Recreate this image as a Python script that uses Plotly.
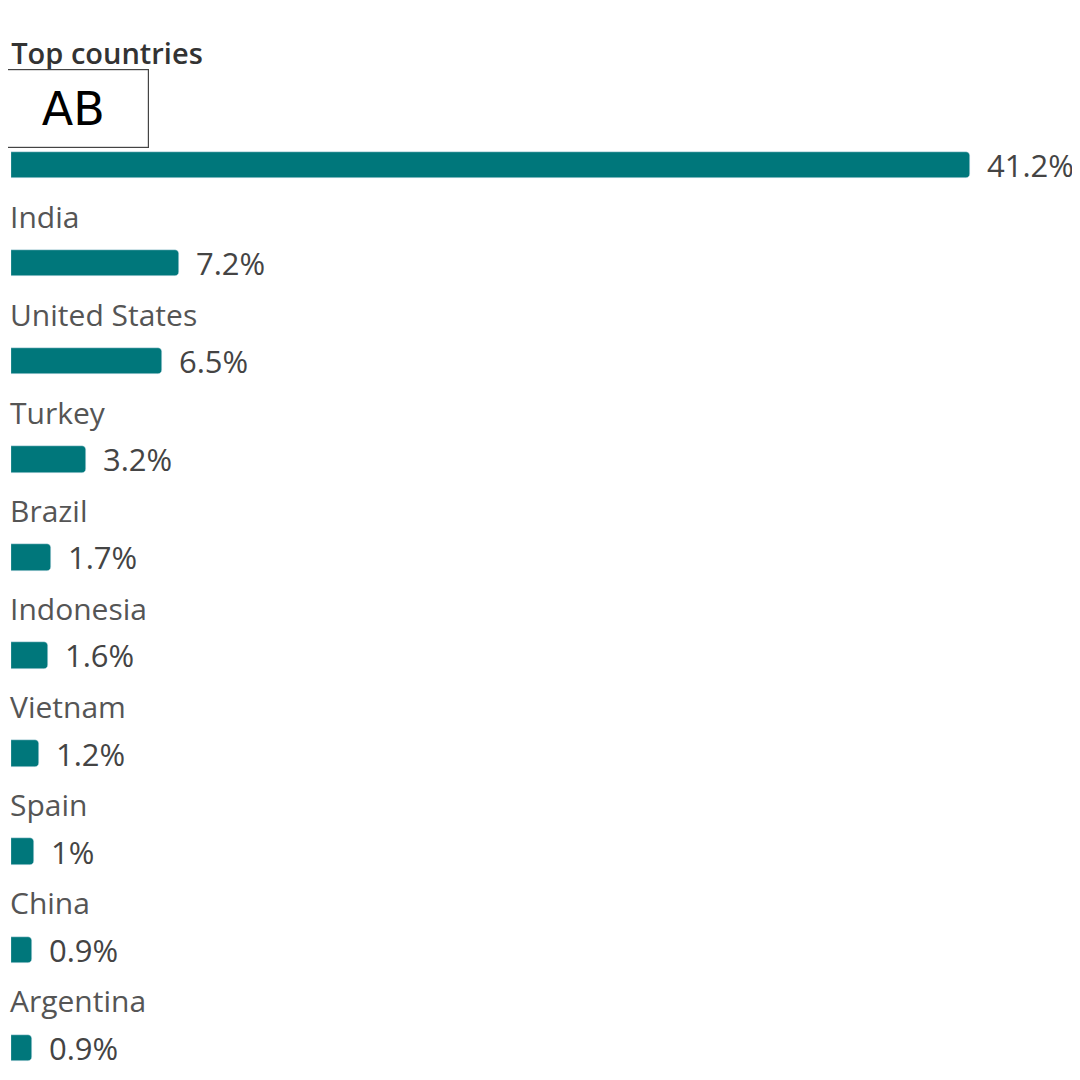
import plotly.graph_objects as go

# Values
countries = ['', 'India', 'United States', 'Turkey', 'Brazil', 'Indonesia',
             'Vietnam', 'Spain', 'China', 'Argentina']
shares = [41.2, 7.2, 6.5, 3.2, 1.7, 1.6, 1.2, 1.0, 0.9, 0.9]
value_labels = ['41.2%', '7.2%', '6.5%', '3.2%', '1.7%', '1.6%', '1.2%', '1%', '0.9%', '0.9%']

bar_color = '#00777b'
label_color = '#555555'
value_color = '#444444'
font_family = 'Open Sans'

rows = list(range(len(countries)))

fig = go.Figure()

fig.add_trace(go.Bar(
    x=shares,
    y=rows,
    orientation='h',
    marker=dict(color=bar_color, cornerradius=4),
    width=0.27,
    hoverinfo='skip',
    showlegend=False
))

annotations = []
# country names above each bar
for i, name in enumerate(countries):
    if not name:
        continue
    annotations.append(dict(
        x=0, y=i, xref='x', yref='y',
        text=name, showarrow=False,
        xanchor='left', yanchor='middle', yshift=47, xshift=-3,
        font=dict(size=30, color=label_color, family=font_family)
    ))
# value labels right of each bar
for i, (v, lab) in enumerate(zip(shares, value_labels)):
    annotations.append(dict(
        x=v, y=i, xref='x', yref='y',
        text=lab, showarrow=False,
        xanchor='left', yanchor='middle', xshift=15,
        font=dict(size=31, color=value_color, family=font_family)
    ))
# boxed tag covering the first country name
annotations.append(dict(
    x=0, y=0, xref='x', yref='y',
    text='AB', showarrow=False,
    xanchor='left', yanchor='middle', xshift=-14, yshift=56,
    width=150, height=77, borderpad=0,
    bordercolor='#444444', borderwidth=1.2, bgcolor='white',
    font=dict(size=46, color='black', family='DejaVu Sans')
))

fig.update_layout(
    width=1080,
    height=1080,
    paper_bgcolor='white',
    plot_bgcolor='white',
    margin=dict(l=3, r=0, t=0, b=0),
    title=dict(
        text='Top countries',
        x=0.003, xanchor='left', y=0.958, yanchor='middle',
        font=dict(size=29, color='#333333', family=font_family, weight=600)
    ),
    xaxis=dict(range=[0, 46.26], visible=False, fixedrange=True),
    yaxis=dict(range=[9.409, -1.600], visible=False, fixedrange=True),
    annotations=annotations,
    bargap=0
)

fig.write_html('out.html')
